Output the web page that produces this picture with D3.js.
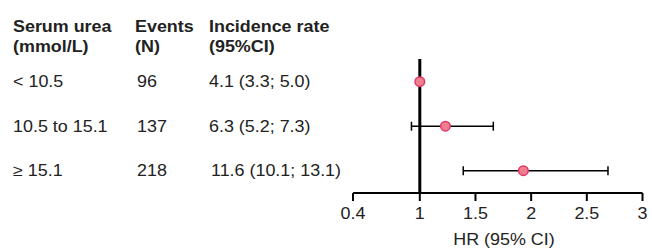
<!DOCTYPE html>
<html><head><meta charset="utf-8">
<script src="https://cdn.jsdelivr.net/npm/d3@7"></script>
<style>body{margin:0;background:#fff}svg{display:block}</style>
</head><body><svg id="c" width="652" height="249"></svg>
<script>
const categories = ["< 10.5", "10.5 to 15.1", "\u2265 15.1"];
const events = ["96", "137", "218"];
const incidence = ["4.1 (3.3; 5.0)", "6.3 (5.2; 7.3)", "11.6 (10.1; 13.1)"];
const hr = [1, 1.23, 1.93];
const hrLow = [null, 0.925, 1.39];
const hrHigh = [null, 1.66, 2.69];
const ticks = [0.4, 1, 1.5, 2, 2.5, 3];
const headers = [["Serum urea", "(mmol/L)"], ["Events", "(N)"], ["Incidence rate", "(95%CI)"]];

const svg = d3.select("#c");
const font = "Liberation Sans, Arial, sans-serif";
const sx = 1.12, fs = 16, txtCol = "#222";
const x = d3.scaleLinear().domain([0.4, 3]).range([353, 642.5]);
const y = d3.scalePoint().domain(categories).range([81.7, 170.7]);
const axisY = 193;

function txt(g, tx, ty, s, opts = {}) {
  return g.append("text")
    .attr("transform", `translate(${tx},${ty}) scale(${sx},1)`)
    .attr("font-family", font).attr("font-size", fs)
    .attr("font-weight", opts.bold ? "bold" : "normal")
    .attr("text-anchor", opts.anchor || "start")
    .attr("fill", txtCol).text(s);
}

const colX = [13, 135, 209];
const dataX = [13, 137, 209];
headers.forEach((h, i) => {
  txt(svg, colX[i], 32, h[0], {bold: true});
  txt(svg, colX[i], 52, h[1], {bold: true});
});
categories.forEach((c, i) => {
  const yy = y(c) + 5.5;
  txt(svg, dataX[0], yy, c);
  txt(svg, dataX[1], yy, events[i]);
  txt(svg, dataX[2] + (i === 2 ? 2 : 0), yy, incidence[i]);
});

// reference line at HR = 1
svg.append("line").attr("x1", x(1)).attr("x2", x(1)).attr("y1", 59).attr("y2", axisY)
  .attr("stroke", "#000").attr("stroke-width", 3);

// axis
const ax = svg.append("g").attr("transform", `translate(0,${axisY})`);
ax.append("line").attr("x1", x(0.4)).attr("x2", x(3)).attr("y1", 0).attr("y2", 0)
  .attr("stroke", "#000").attr("stroke-width", 2);
ticks.forEach(t => {
  ax.append("line").attr("x1", x(t)).attr("x2", x(t)).attr("y1", 0).attr("y2", 8)
    .attr("stroke", "#000").attr("stroke-width", 2);
  txt(ax, x(t), 26, String(t), {anchor: "middle"});
});
txt(svg, 504, 245, "HR (95% CI)", {anchor: "middle"});

// error bars and points
categories.forEach((c, i) => {
  const yy = y(c);
  if (hrLow[i] != null) {
    svg.append("line").attr("x1", x(hrLow[i])).attr("x2", x(hrHigh[i])).attr("y1", yy).attr("y2", yy)
      .attr("stroke", "#000").attr("stroke-width", 1.5);
    [hrLow[i], hrHigh[i]].forEach(v => {
      svg.append("line").attr("x1", x(v)).attr("x2", x(v)).attr("y1", yy - 4.5).attr("y2", yy + 4.5)
        .attr("stroke", "#000").attr("stroke-width", 1.5);
    });
  }
  svg.append("circle").attr("cx", x(hr[i])).attr("cy", yy).attr("r", 4.8)
    .attr("fill", "#ef7f8d").attr("stroke", "#e2356a").attr("stroke-width", 1.5);
});
</script></body></html>
